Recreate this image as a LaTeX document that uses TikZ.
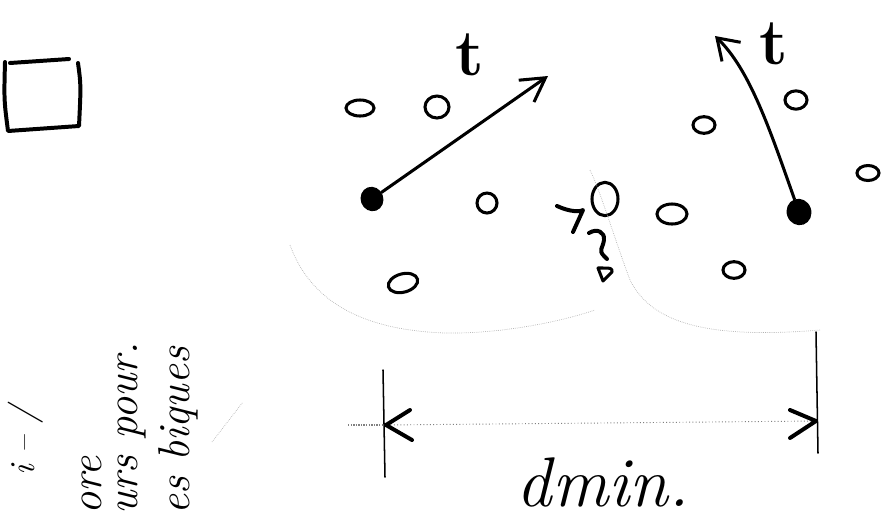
\documentclass[tikz,border=0pt]{standalone}
\usetikzlibrary{shapes.geometric,arrows.meta}
\begin{document}
\begin{tikzpicture}[x=0.03cm,y=-0.03cm,
  ink/.style={line width=3.4pt,line cap=round,line join=round},
  mid ink/.style={line width=2.6pt,line cap=round,line join=round},
  thin ink/.style={line width=1.3pt,line cap=round},
  blob/.style={ellipse,draw,line width=2.6pt,inner sep=0pt},
  dot/.style={ellipse,fill=black,inner sep=0pt,minimum width=0.68cm,minimum height=0.74cm},
  faint/.style={gray!60,line width=0.6pt,densely dotted},
  tlab/.style={font=\fontsize{56}{56}\selectfont\bfseries},
  hand/.style={rotate=90,anchor=west,font=\fontsize{38}{38}\selectfont\itshape}]
\useasboundingbox (0,0) rectangle (882,519);
% square
\draw[ink] (10,63) -- (69,59);
\draw[ink] (78,63) .. controls (81,85) .. (79,126) -- (8,131) .. controls (4,100) .. (5,62);
% dots
\node[dot,rotate=20] (d1) at (372,199) {};
\node[dot,rotate=20,minimum width=0.74cm,minimum height=0.8cm] (d2) at (799,212) {};
\coordinate (tip1) at (548,76);
\coordinate (tip2) at (715,36);
\draw[mid ink,-{Straight Barb[length=7mm,width=8mm,line width=2.6pt]}] (d1) -- (tip1);
\draw[mid ink,-{Straight Barb[length=6mm,width=8mm,line width=2.6pt]}] (d2) .. controls (770,130) and (750,70) .. (tip2);
\node[tlab] (t1) at (470,55) {t};
\node[tlab] (t2) at (774,44) {t};
% small ellipses
\node[blob,minimum width=0.84cm,minimum height=0.48cm] (e1) at (360,108) {};
\node[blob,minimum width=0.72cm,minimum height=0.66cm] (e2) at (437,107) {};
\node[blob,minimum width=0.6cm,minimum height=0.6cm] (e3) at (487,203) {};
\node[blob,minimum width=0.78cm,minimum height=1.0cm] (e4) at (605,199) {};
\node[blob,minimum width=0.9cm,minimum height=0.6cm] (e5) at (672,214) {};
\node[blob,minimum width=0.9cm,minimum height=0.55cm,rotate=15] (e6) at (403,283) {};
\node[blob,minimum width=0.66cm,minimum height=0.5cm] (e7) at (734,270) {};
\node[blob,minimum width=0.66cm,minimum height=0.5cm] (e8) at (704,125) {};
\node[blob,minimum width=0.66cm,minimum height=0.55cm] (e9) at (796,100) {};
\node[blob,minimum width=0.66cm,minimum height=0.45cm] (e10) at (868,173) {};
% marks near centre circle
\draw[ink] (557,206) .. controls (570,212) and (580,212) .. (583,210) -- (573,232);
\draw[ink] (589,233) .. controls (597,228) and (605,232) .. (604,240) .. controls (603,248) and (598,250) .. (604,256) -- (607,259);
\draw[mid ink] (598,268) .. controls (612,268) .. (612,272) -- (603,281) -- (598,268);
% faint arcs
\draw[faint] (290,245) .. controls (310,300) and (360,330) .. (445,333) .. controls (500,334) and (560,322) .. (595,310);
\draw[faint] (590,170) .. controls (600,190) and (615,240) .. (630,280) .. controls (650,320) and (700,340) .. (820,330);
\draw[faint] (212,442) -- (243,402);
% dimension
\coordinate (l1) at (383,370);
\coordinate (l2) at (385,477);
\coordinate (r1) at (816,332);
\coordinate (r2) at (818,453);
\draw[thin ink] (l1) -- (l2);
\draw[thin ink] (r1) -- (r2);
\coordinate (a1) at (384,425);
\coordinate (a2) at (817,421);
\coordinate (a0) at (348,425);
\draw[gray,line width=1.2pt,densely dotted] (a0) -- (a1);
\draw[gray,line width=0.8pt,dotted] (a1) -- (a2);
\draw[ink] (410,410) -- (386,425) -- (412,440);
\draw[ink] (790,410) -- (816,421) -- (790,438);
\node[font=\fontsize{60}{60}\selectfont\itshape] (dl) at (603,482) {dmin.};
% rotated handwriting
\node[hand,font=\fontsize{30}{30}\selectfont\itshape] (h1) at (26,480) {i -- /};
\node[hand] (h2) at (92,519) {ore};
\node[hand] (h3) at (132,519) {urs pour.};
\node[hand] (h4) at (178,519) {es biques};
\end{tikzpicture}
\end{document}
